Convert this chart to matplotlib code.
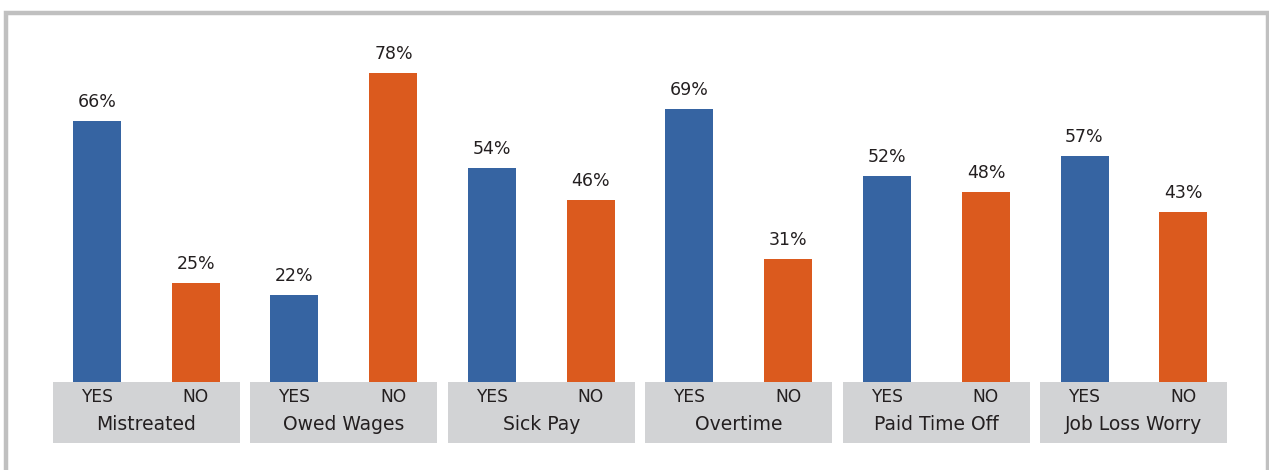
import matplotlib.pyplot as plt
from matplotlib.patches import Rectangle

categories = ["Mistreated", "Owed Wages", "Sick Pay", "Overtime", "Paid Time Off", "Job Loss Worry"]
yes_values = [66, 22, 54, 69, 52, 57]
no_values = [25, 78, 46, 31, 48, 43]
answer_labels = ["YES", "NO"]

blue = "#3664a2"
orange = "#db5a1e"
box_gray = "#d2d3d5"
frame_gray = "#c0c0c0"
text_col = "#231f20"

plt.rcParams['font.family'] = ['DejaVu Sans']

W, H = 1269, 470
fig = plt.figure(figsize=(W / 100, H / 100), dpi=100)
ax = fig.add_axes([0, 0, 1, 1])

# pixel layout -> data units
pitch = 197.5          # px between group centres
x0 = 146.5             # px centre of first group
base = 382             # px baseline of bars
ppu = 3.96             # px per percent
ax.set_xlim(-x0 / pitch, (W - x0) / pitch)
ax.set_ylim(-(H - base) / ppu, base / ppu)
ax.axis("off")

bw = 48 / pitch
off = 49.5 / pitch
xs = list(range(len(categories)))

ax.bar([x - off for x in xs], yes_values, width=bw, color=blue)
ax.bar([x + off for x in xs], no_values, width=bw, color=orange)

for x, v in zip(xs, yes_values):
    ax.text(x - off, v + 19 / ppu, f"{v}%", ha="center", va="center", fontsize=12.5, color=text_col)
for x, v in zip(xs, no_values):
    ax.text(x + off, v + 19 / ppu, f"{v}%", ha="center", va="center", fontsize=12.5, color=text_col)

box_w = 187 / pitch
box_h = (443 - base) / ppu
for x, name in zip(xs, categories):
    ax.add_patch(Rectangle((x - box_w / 2, -box_h), box_w, box_h, color=box_gray, lw=0, zorder=0))
    ax.text(x - off, -(397 - base) / ppu, answer_labels[0], ha="center", va="center", fontsize=12.3, color=text_col)
    ax.text(x + off, -(397 - base) / ppu, answer_labels[1], ha="center", va="center", fontsize=12.3, color=text_col)
    ax.text(x, -(425 - base) / ppu, name, ha="center", va="center", fontsize=13.5, color=text_col)

# outer frame
fig.patches.append(Rectangle((6.5 / W, -0.1), (1267.5 - 6.5) / W, 1.1 - 12.5 / H,
                             transform=fig.transFigure, fill=False, ec=frame_gray, lw=3.2))

fig.savefig("out.png", dpi=100)
